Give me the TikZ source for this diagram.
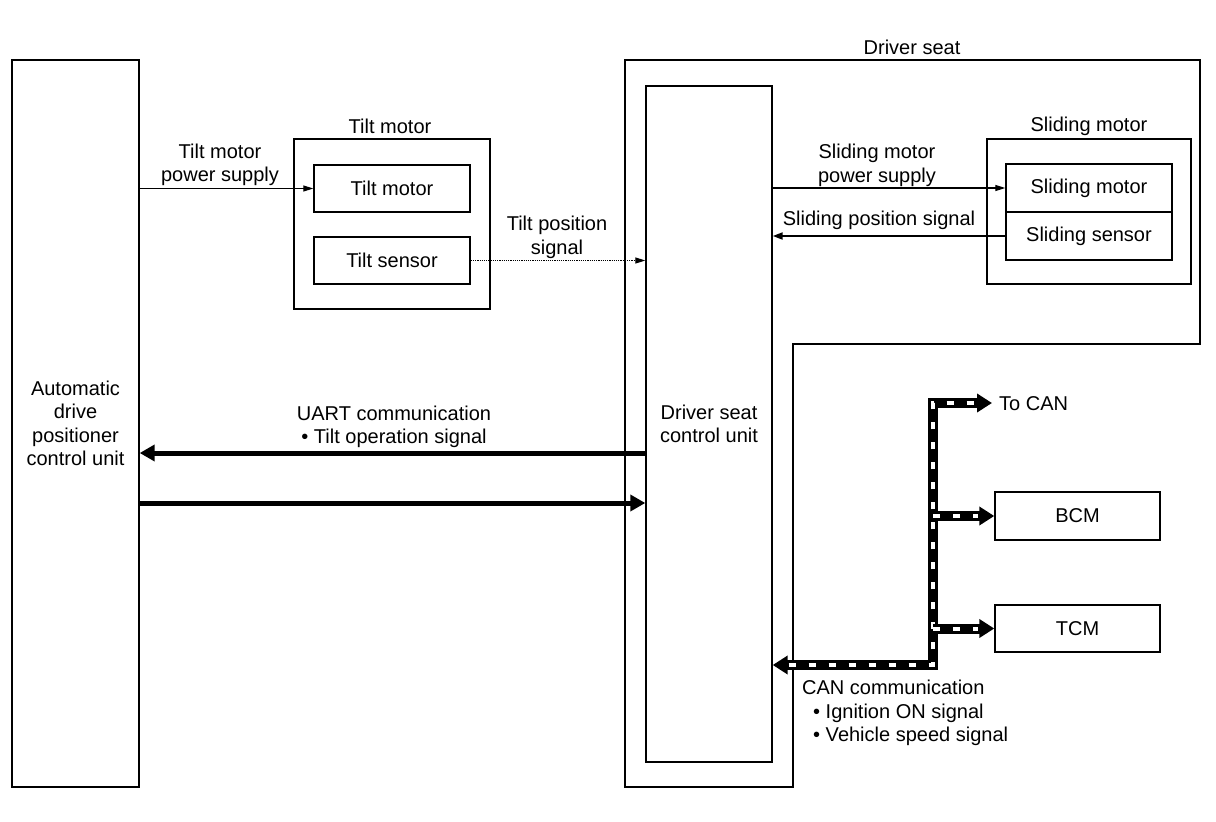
\documentclass[tikz,border=0pt]{standalone}
\usepackage{fontspec}
\setmainfont{Liberation Sans}
\usetikzlibrary{arrows.meta}
\begin{document}
\begin{tikzpicture}[x=1pt,y=-1pt,font=\fontsize{20}{23.5}\selectfont,
  blk/.style={draw,line width=1.4pt,inner sep=0pt,align=center},
  frame/.style={draw,line width=1.8pt,inner sep=0pt},
  lbl/.style={inner sep=0pt,align=center},
  thinarrow/.style={line width=1.2pt,-{Triangle[length=10pt,width=6pt]}},
  dotarrow/.style={line width=1.2pt,densely dotted,-{Triangle[length=10pt,width=6pt]}},
  medarrow/.style={line width=2pt,-{Triangle[length=10pt,width=7pt]}},
  thickarrow/.style={line width=5pt,-{Triangle[length=15pt,width=16pt]}},
  canhead/.tip={Triangle[length=15pt,width=18pt]},
  canln/.style={line width=10pt,postaction={draw=white,line width=4pt,-,dash pattern=on 7pt off 13pt,shorten <=#1,shorten >=16pt}},
  canln/.default=0pt
]
\useasboundingbox (0,0) rectangle (1216,822);
\fill[white] (0,0) rectangle (1216,822);

% Driver seat outline
\draw[line width=1.4pt] (625,60) -- (1200,60) -- (1200,344) -- (793,344) -- (793,787) -- (625,787) -- cycle;
\node[lbl] (dslbl) at (912,47) {Driver seat};

% Main units
\node[blk,minimum width=127pt,minimum height=727pt] (adp) at (75.5,423.5)
  {Automatic\\drive\\positioner\\control unit};
\node[blk,minimum width=126pt,minimum height=676pt] (dscu) at (709,424)
  {Driver seat\\control unit};

% Tilt motor assembly
\node[frame,minimum width=196pt,minimum height=170pt] (tiltbox) at (392,224) {};
\node[lbl] (tiltlbl) at (390,126) {Tilt motor};
\node[blk,minimum width=156pt,minimum height=47pt] (tiltm) at (392,188.5) {Tilt motor};
\node[blk,minimum width=156pt,minimum height=47pt] (tilts) at (392,260.5) {Tilt sensor};

% Sliding motor assembly
\node[frame,minimum width=204pt,minimum height=145pt] (slbox) at (1089,211.5) {};
\node[lbl] (sllbl) at (1089,126) {Sliding motor};
\node[blk,minimum width=166pt,minimum height=48pt] (slm) at (1089,188) {Sliding motor};
\node[blk,minimum width=166pt,minimum height=48pt] (sls) at (1089,236) {Sliding sensor};

% BCM / TCM
\node[blk,minimum width=165pt,minimum height=48pt] (bcm) at (1077.5,516) {BCM};
\node[blk,minimum width=165pt,minimum height=47pt] (tcm) at (1077.5,628.5) {TCM};

% Signal labels
\node[lbl] (tpslbl) at (220,165) {Tilt motor\\power supply};
\node[lbl] (tposlbl) at (557,237.5) {Tilt position\\signal};
\node[lbl] (spslbl) at (877,165.5) {Sliding motor\\power supply};
\node[lbl] (sposlbl) at (879,220) {Sliding position signal};
\node[lbl] (uartlbl) at (394,427) {UART communication\\\textbullet\ Tilt operation signal};
\node[lbl,align=left,anchor=north west] (canlbl) at (802,680)
  {CAN communication\\\hspace*{11pt}\textbullet\ Ignition ON signal\\\hspace*{11pt}\textbullet\ Vehicle speed signal};
\node[lbl,anchor=west] (tocan) at (999,404) {To CAN};

% Thin connectors
\draw[thinarrow] (tiltm.west -| adp.east) -- (tiltm.west);
\draw[dotarrow] (tilts.east) -- (tilts.east -| dscu.west);
\draw[thinarrow] (slm.west -| dscu.east) -- (slm.west);
\draw[medarrow] (sls.west) -- (sls.west -| dscu.east);

% UART thick connectors
\coordinate (u1) at (646,453);
\coordinate (u2) at (139,503);
\draw[thickarrow] (u1) -- (u1 -| adp.east);
\draw[thickarrow] (u2) -- (u2 -| dscu.west);

% CAN bus
\coordinate (cj) at (933,665);
\coordinate (ctop) at (933,403);
\coordinate (cend) at (992,403);
\draw[canln=16pt,canhead-canhead] (cj -| dscu.east) -- (cj) -- (ctop) -- (cend);
\draw[canln,-canhead] (cj |- bcm.west) -- (bcm.west);
\draw[canln,-canhead] (cj |- tcm.west) -- (tcm.west);
\end{tikzpicture}
\end{document}
